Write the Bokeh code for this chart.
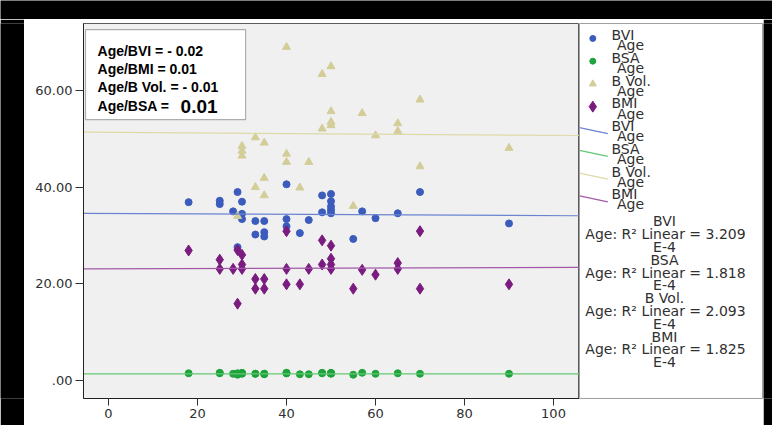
from bokeh.plotting import figure
from bokeh.models import Range1d, FixedTicker, BoxAnnotation, Label
from bokeh.layouts import column, row
from bokeh.embed import file_html
from bokeh.resources import INLINE
from bokeh.core.properties import value

# ---------------- data ----------------
bvi_age = [18, 25, 25, 28, 29, 29, 30, 30, 30, 33, 33, 35, 35, 35, 40, 40, 40, 43, 45, 48, 48,
           50, 50, 50, 50, 50, 55, 57, 60, 65, 70, 90]
bvi_val = [36.9, 37.2, 36.5, 35.0, 39.0, 27.6, 37.0, 34.5, 33.4, 33.0, 30.2, 33.0, 30.7, 29.8,
           40.6, 33.4, 31.9, 30.5, 33.2, 38.3, 34.8, 38.6, 37.1, 36.0, 35.3, 34.6, 29.3, 35.0,
           33.6, 34.6, 39.0, 32.5]

bsa_age = [18, 25, 25, 28, 29, 29, 30, 30, 30, 33, 33, 35, 35, 35, 40, 40, 40, 43, 45, 48, 48,
           50, 50, 50, 50, 50, 55, 57, 60, 65, 70, 90]
bsa_val = [1.5, 1.5, 1.6, 1.4, 1.2, 1.5, 1.4, 1.5, 1.6, 1.4, 1.4, 1.4, 1.3, 1.4, 1.5, 1.6, 1.5,
           1.3, 1.3, 1.5, 1.6, 1.5, 1.6, 1.5, 1.4, 1.5, 1.2, 1.6, 1.4, 1.5, 1.4, 1.4]

bvol_age = [29, 30, 30, 30, 33, 33, 35, 35, 35, 40, 40, 40, 43, 45, 48, 48, 50, 50, 50, 50,
            55, 57, 60, 65, 65, 70, 70, 90]
bvol_val = [34.0, 48.5, 47.5, 46.5, 50.3, 40.0, 49.2, 41.9, 38.3, 69.0, 46.9, 45.2, 39.9, 45.2,
            63.4, 52.1, 65.0, 55.7, 53.5, 52.8, 36.1, 55.3, 50.7, 53.2, 51.6, 58.1, 44.3, 48.1]

bmi_age = [18, 25, 25, 28, 29, 29, 30, 30, 30, 33, 33, 35, 35, 40, 40, 40, 43, 45, 48, 48,
           50, 50, 50, 50, 55, 57, 60, 65, 65, 70, 70, 90]
bmi_val = [26.9, 25.0, 23.1, 23.1, 27.0, 15.9, 26.0, 24.0, 23.1, 21.0, 19.0, 21.0, 19.0, 30.9,
           23.1, 19.9, 19.9, 23.1, 29.0, 24.0, 27.9, 25.2, 24.0, 23.1, 19.0, 22.9, 21.9, 24.3,
           23.1, 30.9, 19.0, 19.9]

# linear fit lines (value = intercept + slope * age)
fit_names = ["BVI", "BSA", "B Vol.", "BMI"]
fit_intercept = [34.57, 1.39, 51.36, 23.12]
fit_slope = [-0.0045, 0.0, -0.0063, 0.0027]
r2_values = ["3.209", "1.818", "2.093", "1.825"]

corr_labels = ["Age/BVI = ", "Age/BMI = ", "Age/B Vol. = ", "Age/BSA = "]
corr_values = ["- 0.02", "0.01", "- 0.01", "0.01"]

x_ticks = [0, 20, 40, 60, 80, 100]
y_ticks = [0, 20, 40, 60]
y_tick_labels = [".00", "20.00", "40.00", "60.00"]

# ---------------- styling ----------------
C_BVI = "#3b5cbc"
C_BSA = "#1fa33c"
C_BVOL = "#d3cd98"
C_BMI = "#7a1c7f"
L_BVI = "#6a84d0"
L_BSA = "#62c872"
L_BVOL = "#dedaa8"
L_BMI = "#a25aa8"
TXT = "#303030"
FONT = "DejaVu Sans"

x_lo, x_hi = -5.62, 105.84
y_lo, y_hi = -3.72, 73.87

p = figure(width=555, height=406, output_backend="svg", toolbar_location=None,
           x_range=Range1d(x_lo, x_hi), y_range=Range1d(y_lo, y_hi),
           min_border_left=59, min_border_right=0, min_border_top=4, min_border_bottom=27,
           background_fill_color="#f0f0f0", border_fill_color="white",
           outline_line_color="#5a5a5a")
p.grid.visible = False

p.xaxis.ticker = FixedTicker(ticks=x_ticks)
p.yaxis.ticker = FixedTicker(ticks=y_ticks)
p.yaxis.major_label_overrides = {t: l for t, l in zip(y_ticks, y_tick_labels)}
for ax in (p.xaxis, p.yaxis):
    ax.minor_tick_line_color = None
    ax.axis_line_color = "#222222"
    ax.major_tick_line_color = "#333333"
    ax.major_tick_in = 0
    ax.major_label_text_font = FONT
    ax.major_label_text_font_size = "13px"
    ax.major_label_text_color = TXT
    ax.major_label_standoff = 3
p.xaxis.major_tick_out = 7
p.yaxis.major_tick_out = 8

p.scatter(bvi_age, bvi_val, marker="circle", size=7, fill_color=C_BVI, line_color=C_BVI)
p.scatter(bsa_age, bsa_val, marker="circle", size=7, fill_color=C_BSA, line_color=C_BSA)
p.scatter(bvol_age, bvol_val, marker="triangle", size=8, fill_color=C_BVOL, line_color=C_BVOL)
p.scatter(bmi_age, bmi_val, marker="diamond", size=11, fill_color=C_BMI, line_color=C_BMI)

line_cols = [L_BVI, L_BSA, L_BVOL, L_BMI]
for b0, b1, col in zip(fit_intercept, fit_slope, line_cols):
    xs = [x_lo, x_hi]
    p.line(xs, [b0 + b1 * xv for xv in xs], line_color=col, line_width=1.2)

# correlation box
box = BoxAnnotation(left=-5.17, right=30.8, bottom=54.0, top=72.6,
                    fill_color="white", fill_alpha=1.0, line_color="black", line_width=1.2)
p.add_layout(box)
base_ys = [68.1, 64.5, 60.8, 56.7]
for i, (lab, val) in enumerate(zip(corr_labels, corr_values)):
    if i < 3:
        p.add_layout(Label(x=-2.47, y=base_ys[i], text=lab + val, text_font="Liberation Sans",
                           text_font_style="bold", text_font_size="14px", text_color="black",
                           text_baseline="alphabetic"))
    else:
        p.add_layout(Label(x=-2.47, y=base_ys[i], text=lab, text_font="Liberation Sans",
                           text_font_style="bold", text_font_size="14px", text_color="black",
                           text_baseline="alphabetic"))
        p.add_layout(Label(x=16.2, y=base_ys[i], text=val, text_font="Liberation Sans",
                           text_font_style="bold", text_font_size="19px", text_color="black",
                           text_baseline="alphabetic"))

# ---------------- legend panel ----------------
lg = figure(width=184, height=406, output_backend="svg", toolbar_location=None,
            x_range=Range1d(0, 184), y_range=Range1d(406, 0),
            min_border=0, x_axis_location=None, y_axis_location=None,
            background_fill_color="white", border_fill_color="white",
            outline_line_color="#a0a0a0")
lg.grid.visible = False

name_y = [12.7 + 24.6 * i for i in range(8)]
markers = ["circle", "circle", "triangle", "diamond"]
msizes = [6, 6, 7, 11]
mcols = [C_BVI, C_BSA, C_BVOL, C_BMI]
for i in range(4):
    lg.scatter([13.3], [name_y[i] + 3.5], marker=markers[i], size=msizes[i],
               fill_color=mcols[i], line_color=mcols[i])
for i in range(4):
    y0 = name_y[4 + i]
    lg.line([0, 28.3], [y0 + 1.7, y0 + 8.2], line_color=line_cols[i], line_width=1.2)

leg_x, leg_y, leg_t = [], [], []
for i in range(8):
    nm = fit_names[i % 4]
    leg_x += [32, 37.5]
    leg_y += [name_y[i], name_y[i] + 11]
    leg_t += [nm, "Age"]
lg.text(leg_x, leg_y, text=leg_t, text_font=value(FONT), text_font_size="14px",
        text_color=TXT, text_baseline="middle", text_align="left")

r_x, r_y, r_t = [], [], []
for i in range(4):
    base = 214.3 + 13.85 * 3 * i
    r_t += [fit_names[i], "Age: R\u00b2 Linear = " + r2_values[i], "E-4"]
    r_y += [base, base + 13.85, base + 27.7]
    r_x += [85, 86, 85]
lg.text(r_x, r_y, text=r_t, text_font=value(FONT), text_font_size="14px",
        text_color=TXT, text_baseline="middle", text_align="center")

# ---------------- black frame bands ----------------
def band(w, h):
    f = figure(width=w, height=h, output_backend="svg", toolbar_location=None,
               min_border=0, x_axis_location=None, y_axis_location=None,
               background_fill_color="black", border_fill_color="black",
               outline_line_color=None)
    f.grid.visible = False
    return f

top_band = band(772, 19)
left_band = band(24, 406)
right_band = band(9, 406)

layout = column(top_band, row(left_band, p, lg, right_band, spacing=0), spacing=0)

open("out.html", "w").write(file_html(layout, INLINE))
